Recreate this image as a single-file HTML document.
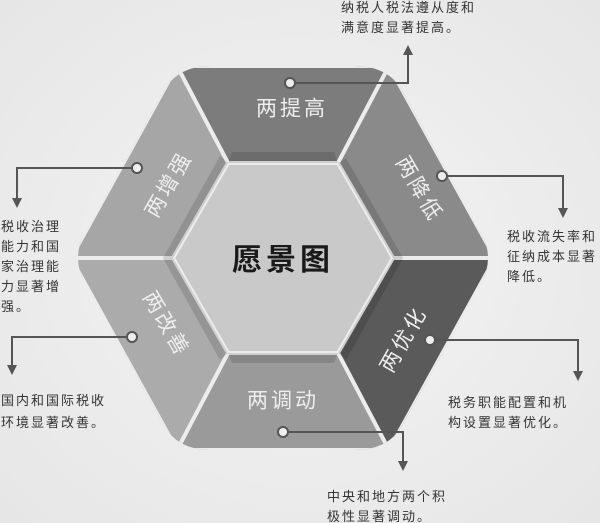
<!DOCTYPE html>
<html><head><meta charset="utf-8"><style>
html,body{margin:0;padding:0;background:#ececec;}
svg{display:block;font-family:"Liberation Sans","Noto Sans CJK SC",sans-serif;}
.t{font-size:13px;fill:#333;letter-spacing:2px;}
.s{font-size:21px;fill:#eeeeee;text-anchor:middle;dominant-baseline:middle;}
</style></head><body>
<svg width="600" height="523" viewBox="0 0 600 523">
<defs>
<radialGradient id="bg" cx="0.5" cy="0.5" r="0.7"><stop offset="0" stop-color="#f4f4f4"/><stop offset="1" stop-color="#e6e6e6"/></radialGradient>
<marker id="a" markerWidth="5" markerHeight="5" refX="2.5" refY="2.5" orient="auto"><path d="M0,0 L5,2.5 L0,5 z" fill="#555"/></marker>
<clipPath id="c"><path d="M211,66 L355,66 Q389,66 403,92 L481,232 Q495,258 481,284 L403,424 Q389,450 355,450 L211,450 Q177,450 163,424 L85,284 Q71,258 85,232 L163,92 Q177,66 211,66 Z"/></clipPath>
</defs>
<rect width="600" height="523" fill="url(#bg)"/>
<polygon points="393,258 338,353 228,353 173,258 228,163 338,163" fill="#c9c9c9"/>
<g clip-path="url(#c)">
<g stroke="#ececec" stroke-width="4" stroke-linejoin="round">
<polygon points="177,66 389,66 338,163 228,163" fill="#7c7c7c"/>
<polygon points="389,66 495,258 393,258 338,163" fill="#8a8a8a"/>
<polygon points="495,258 389,450 338,353 393,258" fill="#5a5a5a"/>
<polygon points="389,450 177,450 228,353 338,353" fill="#9a9a9a"/>
<polygon points="177,450 71,258 173,258 228,353" fill="#ababab"/>
<polygon points="71,258 177,66 228,163 173,258" fill="#a6a6a6"/>
</g>
</g>
<g fill="#000" opacity="0.12">
<polygon points="228,163 338,163 334,152 232,152"/>
<polygon points="338,163 393,258 403,258 346,158"/>
<polygon points="393,258 338,353 346,360 403,258"/>
<polygon points="228,353 338,353 334,363 232,363"/>
<polygon points="173,258 228,353 220,360 163,258"/>
<polygon points="173,258 228,163 220,156 163,258"/>
</g>
<text x="283" y="262" font-size="30" font-weight="bold" fill="#1a1a1a" text-anchor="middle" dominant-baseline="middle" letter-spacing="4">愿景图</text>
<text class="s" x="292" y="110" letter-spacing="3">两提高</text>
<text class="s" x="283" y="402" letter-spacing="3">两调动</text>
<text class="s" transform="translate(418,190) rotate(60)" letter-spacing="3">两降低</text>
<text class="s" transform="translate(405,340) rotate(-60)" letter-spacing="3">两优化</text>
<text class="s" transform="translate(165,325) rotate(60)" letter-spacing="3">两改善</text>
<text class="s" transform="translate(170,185) rotate(-60)" letter-spacing="3">两增强</text>
<g fill="none" stroke="#555" stroke-width="2">
<path d="M290,83 H408 V50" marker-end="url(#a)"/>
<path d="M442,176 H563 V213" marker-end="url(#a)"/>
<path d="M430,340 H578 V376" marker-end="url(#a)"/>
<path d="M283,432 H403 V466" marker-end="url(#a)"/>
<path d="M137,168 H17 V203" marker-end="url(#a)"/>
<path d="M132,337 H12 V370" marker-end="url(#a)"/>
</g>
<g fill="#eee" stroke="#555" stroke-width="2">
<circle cx="290" cy="83" r="5"/><circle cx="442" cy="176" r="5"/><circle cx="430" cy="340" r="5"/>
<circle cx="283" cy="432" r="5"/><circle cx="137" cy="168" r="5"/><circle cx="132" cy="337" r="5"/>
</g>
<text class="t" x="341" y="12">纳税人税法遵从度和</text>
<text class="t" x="341" y="32">满意度显著提高。</text>
<text class="t" x="507" y="241">税收流失率和</text>
<text class="t" x="507" y="261">征纳成本显著</text>
<text class="t" x="507" y="281">降低。</text>
<text class="t" x="448" y="407">税务职能配置和机</text>
<text class="t" x="448" y="427">构设置显著优化。</text>
<text class="t" x="327" y="501">中央和地方两个积</text>
<text class="t" x="327" y="521">极性显著调动。</text>
<text class="t" x="1" y="231" letter-spacing="5">税收治理</text>
<text class="t" x="1" y="251" letter-spacing="5">能力和国</text>
<text class="t" x="1" y="271" letter-spacing="5">家治理能</text>
<text class="t" x="1" y="291" letter-spacing="5">力显著增</text>
<text class="t" x="1" y="311" letter-spacing="5">强。</text>
<text class="t" x="1" y="405" letter-spacing="4">国内和国际税收</text>
<text class="t" x="1" y="427" letter-spacing="4">环境显著改善。</text>
</svg>
</body></html>
